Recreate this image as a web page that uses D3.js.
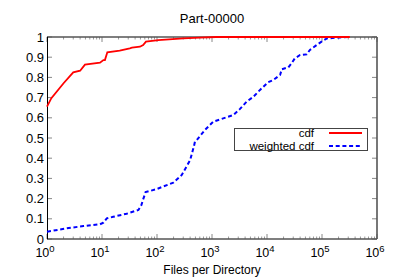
<!DOCTYPE html>
<html lang="en">
<head>
    <meta charset="UTF-8">
    <title>Part-00000</title>
    <script src="https://cdn.jsdelivr.net/npm/d3@7"></script>
    <style>
        body { margin: 0; background: #fff; }
        text { font-family: "Liberation Sans", Arial, sans-serif; fill: #000; }
    </style>
</head>
<body>
    <svg id="chart" width="399" height="279"></svg>
    <script>
        // cdf of files per directory
        var cdfX = [1, 1.2, 2, 3, 4, 4.9, 9.2, 10.6, 11.3, 12.5, 21, 32, 35, 49, 56, 63, 106, 300, 600, 1200, 320000];
        var cdfY = [0.655, 0.697, 0.771, 0.825, 0.833, 0.863, 0.873, 0.886, 0.886, 0.924, 0.932, 0.944, 0.947, 0.952, 0.96, 0.977, 0.985, 0.993, 0.997, 1.0, 1.0];

        // weighted cdf
        var wX = [1, 2.3, 4.6, 9.2, 10.6, 12.2, 16, 28, 46, 52, 55, 62, 98, 198, 282, 400, 470, 490, 530, 746, 1055, 1600, 2450, 3200, 4260, 5650, 7470, 10500, 13000, 17300, 18500, 24500, 28000, 32000, 40000, 52600, 60300, 80000, 98000, 123000, 213000, 320000];
        var wY = [0.036, 0.053, 0.064, 0.073, 0.081, 0.102, 0.11, 0.125, 0.144, 0.168, 0.19, 0.232, 0.247, 0.279, 0.317, 0.39, 0.46, 0.482, 0.49, 0.54, 0.581, 0.597, 0.614, 0.643, 0.68, 0.704, 0.738, 0.776, 0.787, 0.812, 0.84, 0.85, 0.87, 0.894, 0.911, 0.914, 0.936, 0.96, 0.977, 0.993, 0.998, 1.0];

        var yTicks = [0, 0.1, 0.2, 0.3, 0.4, 0.5, 0.6, 0.7, 0.8, 0.9, 1];
        var xTicks = [1, 10, 100, 1000, 10000, 100000, 1000000];
        var legendNames = ["cdf", "weighted cdf"];

        var pLeft = 47, pRight = 377, pTop = 37, pBottom = 239;
        var svg = d3.select("#chart");

        var x = d3.scaleLog().domain([1, 1e6]).range([pLeft, pRight]);
        var y = d3.scaleLinear().domain([0, 1]).range([pBottom, pTop]);

        // minor ticks on log axis
        var minor = [];
        for (var d = 0; d < 6; d++) {
            for (var m = 2; m < 10; m++) minor.push(m * Math.pow(10, d));
        }

        var tickG = svg.append("g").attr("stroke-width", 1);
        // x major/minor ticks, bottom and top, pointing in
        xTicks.forEach(function (t) {
            tickG.append("line").attr("x1", x(t)).attr("x2", x(t)).attr("y1", pBottom).attr("y2", pBottom - 5).attr("stroke", "#888");
            tickG.append("line").attr("x1", x(t)).attr("x2", x(t)).attr("y1", pTop).attr("y2", pTop + 5).attr("stroke", "#888");
        });
        minor.forEach(function (t) {
            tickG.append("line").attr("x1", x(t)).attr("x2", x(t)).attr("y1", pBottom).attr("y2", pBottom - 2.5).attr("stroke", "#999");
            tickG.append("line").attr("x1", x(t)).attr("x2", x(t)).attr("y1", pTop).attr("y2", pTop + 2.5).attr("stroke", "#999");
        });
        yTicks.forEach(function (t) {
            tickG.append("line").attr("x1", pLeft).attr("x2", pLeft + 5).attr("y1", y(t)).attr("y2", y(t)).attr("stroke", "#888");
            tickG.append("line").attr("x1", pRight).attr("x2", pRight - 5).attr("y1", y(t)).attr("y2", y(t)).attr("stroke", "#888");
        });

        // border
        svg.append("line").attr("x1", pLeft).attr("x2", pRight).attr("y1", pTop).attr("y2", pTop).attr("stroke", "#555").attr("stroke-width", 1.3);
        svg.append("line").attr("x1", pLeft).attr("x2", pRight).attr("y1", pBottom).attr("y2", pBottom).attr("stroke", "#555").attr("stroke-width", 1.3);
        svg.append("line").attr("x1", pRight).attr("x2", pRight).attr("y1", pTop).attr("y2", pBottom).attr("stroke", "#555").attr("stroke-width", 1.6);
        svg.append("line").attr("x1", pLeft + 0.5).attr("x2", pLeft + 0.5).attr("y1", pTop).attr("y2", pBottom).attr("stroke", "#000").attr("stroke-width", 1);

        // y tick labels
        svg.append("g").selectAll("text").data(yTicks).enter().append("text")
            .attr("x", pLeft - 3)
            .attr("y", function (d) { return y(d); })
            .attr("dy", "0.36em")
            .attr("text-anchor", "end")
            .attr("font-size", 13)
            .text(function (d) { return d3.format("")(d); });

        // x tick labels 10^n
        var xl = svg.append("g").selectAll("text").data(xTicks).enter().append("text")
            .attr("x", function (d) { return x(d) - 2; })
            .attr("y", 257)
            .attr("text-anchor", "middle")
            .attr("font-size", 12.5);
        xl.append("tspan").text("10");
        xl.append("tspan").attr("dy", -5).attr("font-size", 9.5).text(function (d) { return Math.round(Math.log10(d)); });

        // lines
        var line = d3.line().x(function (d) { return x(d[0]); }).y(function (d) { return y(d[1]); });
        var cdfData = cdfX.map(function (v, i) { return [v, cdfY[i]]; });
        var wData = wX.map(function (v, i) { return [v, wY[i]]; });

        svg.append("path").attr("d", line(wData)).attr("fill", "none")
            .attr("stroke", "#0000ff").attr("stroke-width", 2).attr("stroke-dasharray", "4,2.7");
        svg.append("path").attr("d", line(cdfData)).attr("fill", "none")
            .attr("stroke", "#ff0000").attr("stroke-width", 1.8);

        // legend
        svg.append("rect").attr("x", 234.5).attr("y", 128.5).attr("width", 133).attr("height", 22)
            .attr("fill", "#fff").attr("stroke", "#444").attr("stroke-width", 1);
        var legY = [133, 146];
        var legStyle = [{ c: "#ff0000", dash: null }, { c: "#0000ff", dash: "4,2.7" }];
        legendNames.forEach(function (n, i) {
            svg.append("text").attr("x", 314).attr("y", legY[i]).attr("dy", "0.36em")
                .attr("text-anchor", "end").attr("font-size", 11.5).text(n);
            svg.append("line").attr("x1", 329).attr("x2", 362).attr("y1", legY[i]).attr("y2", legY[i])
                .attr("stroke", legStyle[i].c).attr("stroke-width", 2)
                .attr("stroke-dasharray", legStyle[i].dash);
        });

        // title and axis label
        svg.append("text").attr("x", (pLeft + pRight) / 2).attr("y", 23).attr("text-anchor", "middle")
            .attr("font-size", 13).text("Part-00000");
        svg.append("text").attr("x", (pLeft + pRight) / 2).attr("y", 274).attr("text-anchor", "middle")
            .attr("font-size", 12).text("Files per Directory");
    </script>
</body>
</html>
